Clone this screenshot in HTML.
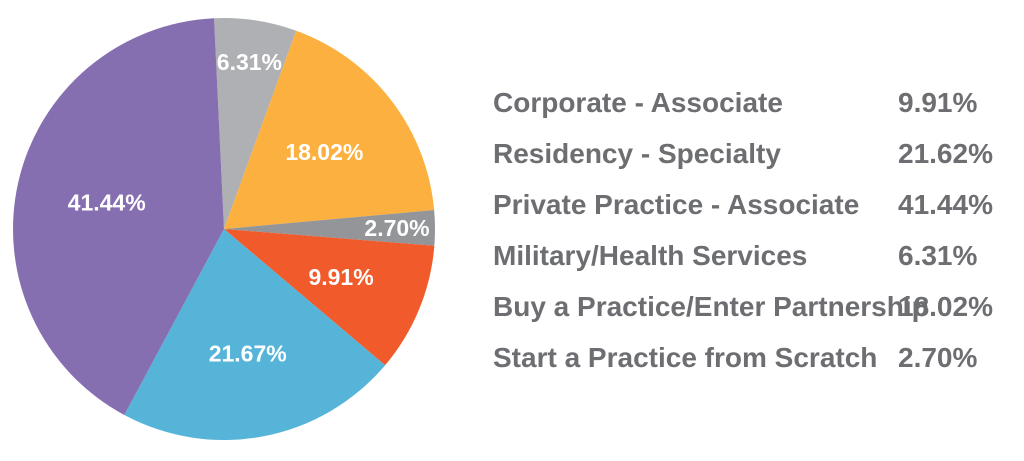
<!DOCTYPE html>
<html><head><meta charset="utf-8"><style>
html,body{margin:0;padding:0;background:#fff;width:1024px;height:461px;overflow:hidden}
svg text{font-family:"Liberation Sans Narrow","Liberation Sans",sans-serif;font-weight:bold}
</style></head><body>
<svg id="chart" width="1024" height="461" xmlns="http://www.w3.org/2000/svg"></svg>
<script>
const sliceValues = [6.31, 18.02, 2.70, 9.91, 21.67, 41.44];
const sliceLabels = ["6.31%", "18.02%", "2.70%", "9.91%", "21.67%", "41.44%"];
const sliceNames = ["military-health", "buy-practice", "start-practice", "corporate-associate", "residency-specialty", "private-practice"];
const legendCategories = ["Corporate - Associate","Residency - Specialty","Private Practice - Associate","Military/Health Services","Buy a Practice/Enter Partnership","Start a Practice from Scratch"];
const legendValues = ["9.91%","21.62%","41.44%","6.31%","18.02%","2.70%"];

const colors = ["#afb0b3","#fbb040","#939598","#f15a2b","#55b4d8","#866fb1"];
const labelRadius = [0.8, 0.6, 0.82, 0.6, 0.6, 0.57];
const NS = "http://www.w3.org/2000/svg";
const svg = document.getElementById("chart");
const cx = 224, cy = 229, r = 211, startDeg = -2.7;
const total = sliceValues.reduce((a,b)=>a+b,0);
function pt(deg, rad){const a = deg*Math.PI/180; return [cx + rad*Math.sin(a), cy - rad*Math.cos(a)];}
let ang = startDeg;
sliceValues.forEach((v,i)=>{
  const sweep = v/total*360;
  const [x1,y1] = pt(ang, r), [x2,y2] = pt(ang+sweep, r);
  const p = document.createElementNS(NS,"path");
  p.setAttribute("d",`M${cx},${cy} L${x1},${y1} A${r},${r} 0 ${sweep>180?1:0} 1 ${x2},${y2} Z`);
  p.setAttribute("fill",colors[i]);
  
  
  svg.appendChild(p);
  const [lx,ly] = pt(ang+sweep/2, r*labelRadius[i]);
  const t = document.createElementNS(NS,"text");
  t.setAttribute("x",lx); t.setAttribute("y",ly+8);
  t.setAttribute("text-anchor","middle");
  t.setAttribute("fill","#fff");
  t.setAttribute("font-size","23");
  t.textContent = sliceLabels[i];
  
  
  svg.appendChild(t);
  ang += sweep;
});
legendCategories.forEach((c,i)=>{
  const y = 112 + i*51;
  const t = document.createElementNS(NS,"text");
  t.setAttribute("x",493); t.setAttribute("y",y);
  t.setAttribute("fill","#6d6e71"); t.setAttribute("font-size","28");
  t.textContent = c;
  
  
  svg.appendChild(t);
  const v = document.createElementNS(NS,"text");
  v.setAttribute("x",898); v.setAttribute("y",y);
  v.setAttribute("fill","#6d6e71"); v.setAttribute("font-size","28");
  v.textContent = legendValues[i];
  
  
  svg.appendChild(v);
});
</script>
</body></html>
